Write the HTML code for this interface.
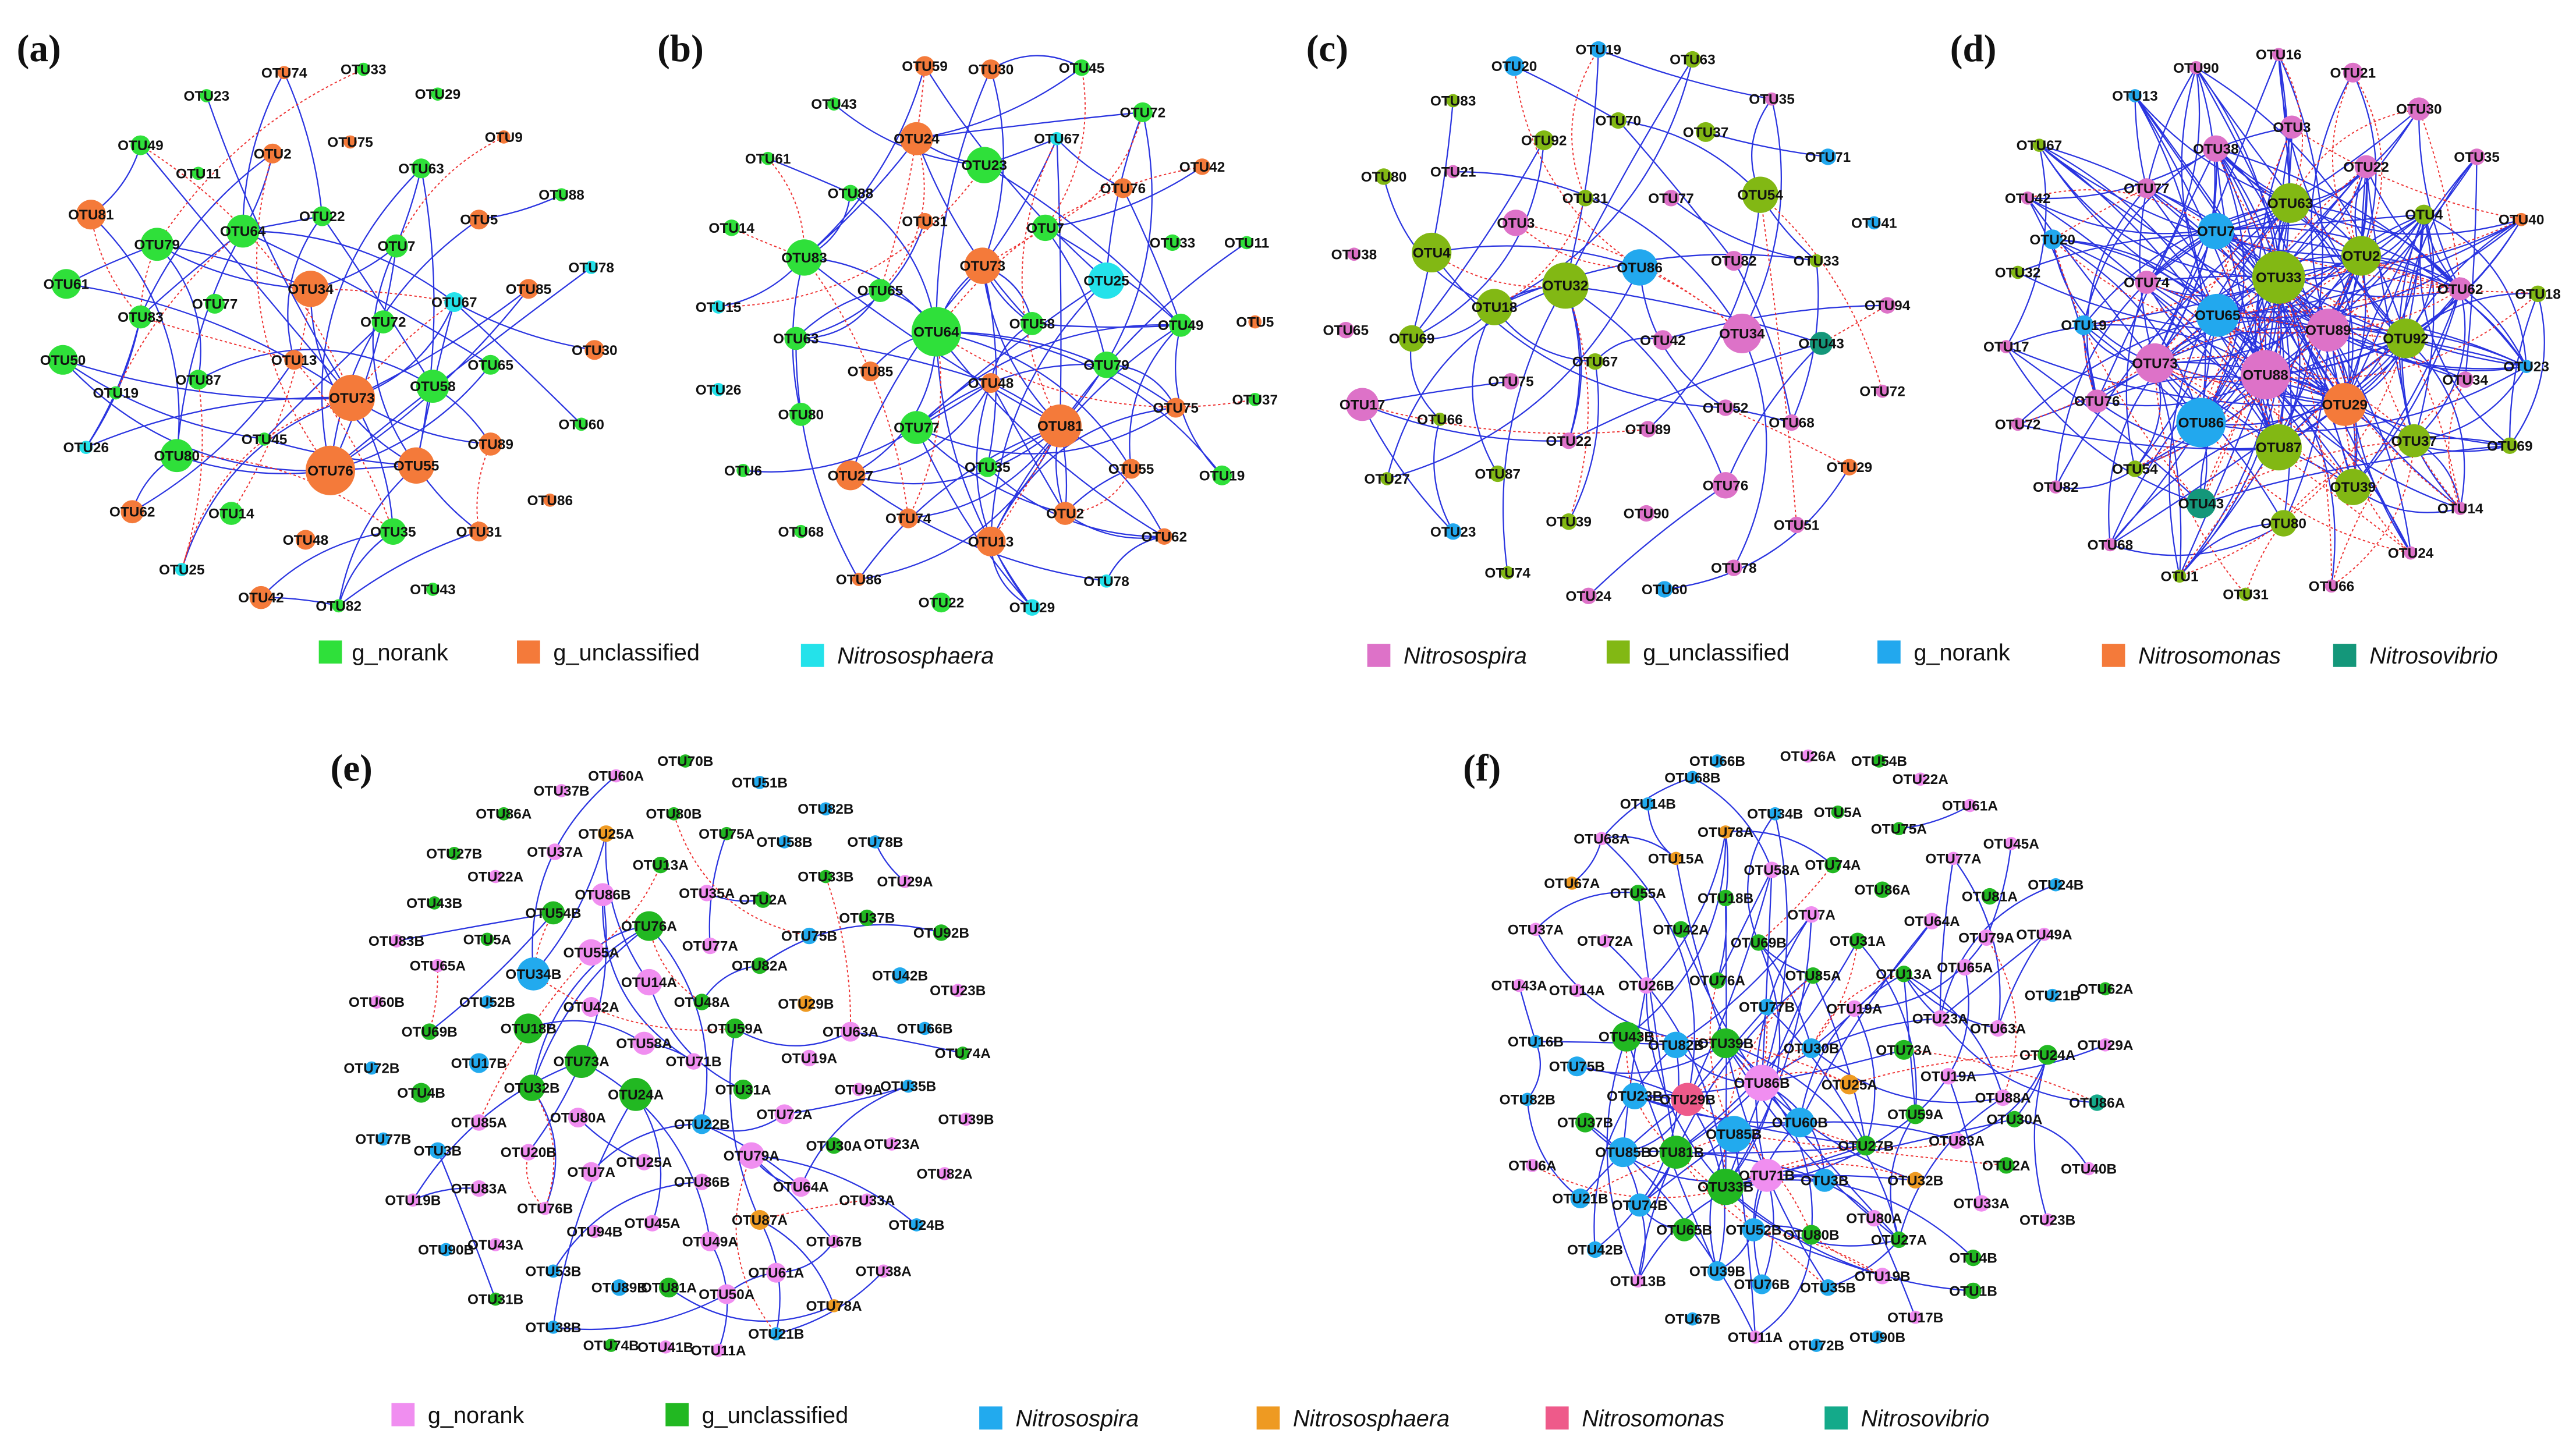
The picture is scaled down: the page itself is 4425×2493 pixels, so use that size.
<!DOCTYPE html>
<html><head><meta charset="utf-8"><style>
html,body{margin:0;padding:0;background:#fff;}
svg{display:block;}
text{font-family:"Liberation Sans",sans-serif;font-size:8.6px;font-weight:bold;text-anchor:middle;fill:#111;}
.lab{font-family:"Liberation Serif",serif;font-size:23px;font-weight:bold;text-anchor:start;}
.lg{font-size:14px;font-weight:normal;text-anchor:start;}
.it{font-style:italic;}
.g1{fill:#2fe03a}.o1{fill:#f47a3a}.c1{fill:#24e2ea}
.pk{fill:#dd72c8}.ol{fill:#82b814}.bl{fill:#22a8ee}.tl{fill:#14977a}.or{fill:#f47a3a}
.pe{fill:#f08ef0}.ge{fill:#22b822}.be{fill:#22aaee}.oe{fill:#ee9a22}.re{fill:#ee5a8a}.te{fill:#14aa8a}
</style></head><body>
<svg id="s" width="4425" height="2493" viewBox="0 0 1560 879" xmlns="http://www.w3.org/2000/svg">
<g id="edges"></g>
<text class="lab" x="10" y="37">(a)</text>
<text class="lab" x="398" y="37">(b)</text>
<text class="lab" x="791" y="37">(c)</text>
<text class="lab" x="1181" y="37">(d)</text>
<text class="lab" x="200" y="473">(e)</text>
<text class="lab" x="886" y="473">(f)</text>

<g id="pa">
<circle class="o1" cx="172" cy="44" r="4"/><text x="172" y="47">OTU74</text>
<circle class="g1" cx="220" cy="42" r="4"/><text x="220" y="45">OTU33</text>
<circle class="g1" cx="125" cy="58" r="4"/><text x="125" y="61">OTU23</text>
<circle class="g1" cx="265" cy="57" r="4"/><text x="265" y="60">OTU29</text>
<circle class="o1" cx="212" cy="86" r="4"/><text x="212" y="89">OTU75</text>
<circle class="o1" cx="305" cy="83" r="4"/><text x="305" y="86">OTU9</text>
<circle class="g1" cx="85" cy="88" r="6"/><text x="85" y="91">OTU49</text>
<circle class="o1" cx="165" cy="93" r="6"/><text x="165" y="96">OTU2</text>
<circle class="g1" cx="120" cy="105" r="4"/><text x="120" y="108">OTU11</text>
<circle class="g1" cx="255" cy="102" r="6"/><text x="255" y="105">OTU63</text>
<circle class="g1" cx="340" cy="118" r="4"/><text x="340" y="121">OTU88</text>
<circle class="o1" cx="55" cy="130" r="9"/><text x="55" y="133">OTU81</text>
<circle class="g1" cx="95" cy="148" r="10"/><text x="95" y="151">OTU79</text>
<circle class="g1" cx="147" cy="140" r="10"/><text x="147" y="143">OTU64</text>
<circle class="g1" cx="195" cy="131" r="6"/><text x="195" y="134">OTU22</text>
<circle class="o1" cx="290" cy="133" r="6"/><text x="290" y="136">OTU5</text>
<circle class="g1" cx="240" cy="149" r="7"/><text x="240" y="152">OTU7</text>
<circle class="c1" cx="358" cy="162" r="4"/><text x="358" y="165">OTU78</text>
<circle class="g1" cx="40" cy="172" r="9"/><text x="40" y="175">OTU61</text>
<circle class="o1" cx="188" cy="175" r="11"/><text x="188" y="178">OTU34</text>
<circle class="c1" cx="275" cy="183" r="6"/><text x="275" y="186">OTU67</text>
<circle class="o1" cx="320" cy="175" r="6"/><text x="320" y="178">OTU85</text>
<circle class="g1" cx="130" cy="184" r="6"/><text x="130" y="187">OTU77</text>
<circle class="g1" cx="85" cy="192" r="7"/><text x="85" y="195">OTU83</text>
<circle class="g1" cx="232" cy="195" r="7"/><text x="232" y="198">OTU72</text>
<circle class="o1" cx="178" cy="218" r="6"/><text x="178" y="221">OTU13</text>
<circle class="o1" cx="360" cy="212" r="6"/><text x="360" y="215">OTU30</text>
<circle class="g1" cx="297" cy="221" r="6"/><text x="297" y="224">OTU65</text>
<circle class="g1" cx="38" cy="218" r="9"/><text x="38" y="221">OTU50</text>
<circle class="g1" cx="120" cy="230" r="6"/><text x="120" y="233">OTU87</text>
<circle class="g1" cx="70" cy="238" r="4"/><text x="70" y="241">OTU19</text>
<circle class="g1" cx="262" cy="234" r="10"/><text x="262" y="237">OTU58</text>
<circle class="o1" cx="213" cy="241" r="14"/><text x="213" y="244">OTU73</text>
<circle class="g1" cx="352" cy="257" r="4"/><text x="352" y="260">OTU60</text>
<circle class="c1" cx="52" cy="271" r="4"/><text x="52" y="274">OTU26</text>
<circle class="g1" cx="160" cy="266" r="4"/><text x="160" y="269">OTU45</text>
<circle class="o1" cx="297" cy="269" r="7"/><text x="297" y="272">OTU89</text>
<circle class="g1" cx="107" cy="276" r="10"/><text x="107" y="279">OTU80</text>
<circle class="o1" cx="200" cy="285" r="15"/><text x="200" y="288">OTU76</text>
<circle class="o1" cx="252" cy="282" r="11"/><text x="252" y="285">OTU55</text>
<circle class="o1" cx="333" cy="303" r="4"/><text x="333" y="306">OTU86</text>
<circle class="o1" cx="80" cy="310" r="7"/><text x="80" y="313">OTU62</text>
<circle class="g1" cx="140" cy="311" r="7"/><text x="140" y="314">OTU14</text>
<circle class="o1" cx="185" cy="327" r="6"/><text x="185" y="330">OTU48</text>
<circle class="g1" cx="238" cy="322" r="8"/><text x="238" y="325">OTU35</text>
<circle class="o1" cx="290" cy="322" r="6"/><text x="290" y="325">OTU31</text>
<circle class="c1" cx="110" cy="345" r="4"/><text x="110" y="348">OTU25</text>
<circle class="g1" cx="262" cy="357" r="4"/><text x="262" y="360">OTU43</text>
<circle class="o1" cx="158" cy="362" r="7"/><text x="158" y="365">OTU42</text>
<circle class="g1" cx="205" cy="367" r="4"/><text x="205" y="370">OTU82</text>
</g>
<rect class="g1" x="193" y="388" width="14" height="14"/><text class="lg" x="213" y="400">g_norank</text>
<rect class="o1" x="313" y="388" width="14" height="14"/><text class="lg" x="335" y="400">g_unclassified</text>
<rect class="c1" x="485" y="390" width="14" height="14"/><text class="lg it" x="507" y="402">Nitrososphaera</text>

<g id="pb">
<circle class="o1" cx="560" cy="40" r="6"/><text x="560" y="43">OTU59</text>
<circle class="o1" cx="600" cy="42" r="6"/><text x="600" y="45">OTU30</text>
<circle class="g1" cx="655" cy="41" r="5"/><text x="655" y="44">OTU45</text>
<circle class="g1" cx="505" cy="63" r="4"/><text x="505" y="66">OTU43</text>
<circle class="c1" cx="640" cy="84" r="4"/><text x="640" y="87">OTU67</text>
<circle class="g1" cx="692" cy="68" r="6"/><text x="692" y="71">OTU72</text>
<circle class="o1" cx="555" cy="84" r="10"/><text x="555" y="87">OTU24</text>
<circle class="g1" cx="465" cy="96" r="4"/><text x="465" y="99">OTU61</text>
<circle class="o1" cx="728" cy="101" r="5"/><text x="728" y="104">OTU42</text>
<circle class="g1" cx="596" cy="100" r="11"/><text x="596" y="103">OTU23</text>
<circle class="g1" cx="515" cy="117" r="5"/><text x="515" y="120">OTU88</text>
<circle class="o1" cx="680" cy="114" r="6"/><text x="680" y="117">OTU76</text>
<circle class="o1" cx="560" cy="134" r="5"/><text x="560" y="137">OTU31</text>
<circle class="g1" cx="633" cy="138" r="8"/><text x="633" y="141">OTU7</text>
<circle class="g1" cx="443" cy="138" r="5"/><text x="443" y="141">OTU14</text>
<circle class="g1" cx="710" cy="147" r="5"/><text x="710" y="150">OTU33</text>
<circle class="g1" cx="755" cy="147" r="4"/><text x="755" y="150">OTU11</text>
<circle class="g1" cx="487" cy="156" r="11"/><text x="487" y="159">OTU83</text>
<circle class="o1" cx="595" cy="161" r="11"/><text x="595" y="164">OTU73</text>
<circle class="c1" cx="670" cy="170" r="11"/><text x="670" y="173">OTU25</text>
<circle class="g1" cx="533" cy="176" r="7"/><text x="533" y="179">OTU65</text>
<circle class="c1" cx="435" cy="186" r="4"/><text x="435" y="189">OTU15</text>
<circle class="g1" cx="625" cy="196" r="7"/><text x="625" y="199">OTU58</text>
<circle class="o1" cx="760" cy="195" r="4"/><text x="760" y="198">OTU5</text>
<circle class="g1" cx="715" cy="197" r="7"/><text x="715" y="200">OTU49</text>
<circle class="g1" cx="567" cy="201" r="15"/><text x="567" y="204">OTU64</text>
<circle class="g1" cx="482" cy="205" r="7"/><text x="482" y="208">OTU63</text>
<circle class="g1" cx="670" cy="221" r="8"/><text x="670" y="224">OTU79</text>
<circle class="o1" cx="527" cy="225" r="6"/><text x="527" y="228">OTU85</text>
<circle class="o1" cx="600" cy="232" r="6"/><text x="600" y="235">OTU48</text>
<circle class="c1" cx="435" cy="236" r="4"/><text x="435" y="239">OTU26</text>
<circle class="g1" cx="760" cy="242" r="4"/><text x="760" y="245">OTU37</text>
<circle class="g1" cx="485" cy="251" r="7"/><text x="485" y="254">OTU80</text>
<circle class="g1" cx="555" cy="259" r="10"/><text x="555" y="262">OTU77</text>
<circle class="o1" cx="642" cy="258" r="13"/><text x="642" y="261">OTU81</text>
<circle class="o1" cx="712" cy="247" r="6"/><text x="712" y="250">OTU75</text>
<circle class="g1" cx="450" cy="285" r="4"/><text x="450" y="288">OTU6</text>
<circle class="o1" cx="515" cy="288" r="9"/><text x="515" y="291">OTU27</text>
<circle class="g1" cx="598" cy="283" r="6"/><text x="598" y="286">OTU35</text>
<circle class="o1" cx="685" cy="284" r="6"/><text x="685" y="287">OTU55</text>
<circle class="g1" cx="740" cy="288" r="6"/><text x="740" y="291">OTU19</text>
<circle class="g1" cx="485" cy="322" r="4"/><text x="485" y="325">OTU68</text>
<circle class="o1" cx="550" cy="314" r="6"/><text x="550" y="317">OTU74</text>
<circle class="o1" cx="600" cy="328" r="9"/><text x="600" y="331">OTU13</text>
<circle class="o1" cx="645" cy="311" r="7"/><text x="645" y="314">OTU2</text>
<circle class="o1" cx="705" cy="325" r="5"/><text x="705" y="328">OTU62</text>
<circle class="o1" cx="520" cy="351" r="4"/><text x="520" y="354">OTU86</text>
<circle class="g1" cx="570" cy="365" r="6"/><text x="570" y="368">OTU22</text>
<circle class="c1" cx="670" cy="352" r="4"/><text x="670" y="355">OTU78</text>
<circle class="c1" cx="625" cy="368" r="5"/><text x="625" y="371">OTU29</text>
</g>

<g id="pc">
<circle class="bl" cx="968" cy="30" r="5"/><text x="968" y="33">OTU19</text>
<circle class="bl" cx="917" cy="40" r="6"/><text x="917" y="43">OTU20</text>
<circle class="ol" cx="1025" cy="36" r="5"/><text x="1025" y="39">OTU63</text>
<circle class="pk" cx="1073" cy="60" r="4"/><text x="1073" y="63">OTU35</text>
<circle class="ol" cx="880" cy="61" r="4"/><text x="880" y="64">OTU83</text>
<circle class="ol" cx="980" cy="73" r="5"/><text x="980" y="76">OTU70</text>
<circle class="ol" cx="1033" cy="80" r="6"/><text x="1033" y="83">OTU37</text>
<circle class="ol" cx="935" cy="85" r="6"/><text x="935" y="88">OTU92</text>
<circle class="bl" cx="1107" cy="95" r="5"/><text x="1107" y="98">OTU71</text>
<circle class="ol" cx="838" cy="107" r="5"/><text x="838" y="110">OTU80</text>
<circle class="pk" cx="880" cy="104" r="4"/><text x="880" y="107">OTU21</text>
<circle class="ol" cx="960" cy="120" r="5"/><text x="960" y="123">OTU31</text>
<circle class="pk" cx="1012" cy="120" r="5"/><text x="1012" y="123">OTU77</text>
<circle class="ol" cx="1066" cy="118" r="11"/><text x="1066" y="121">OTU54</text>
<circle class="bl" cx="1135" cy="135" r="4"/><text x="1135" y="138">OTU41</text>
<circle class="pk" cx="918" cy="135" r="8"/><text x="918" y="138">OTU3</text>
<circle class="ol" cx="867" cy="153" r="12"/><text x="867" y="156">OTU4</text>
<circle class="pk" cx="820" cy="154" r="4"/><text x="820" y="157">OTU38</text>
<circle class="ol" cx="948" cy="173" r="14"/><text x="948" y="176">OTU32</text>
<circle class="bl" cx="993" cy="162" r="11"/><text x="993" y="165">OTU86</text>
<circle class="pk" cx="1050" cy="158" r="6"/><text x="1050" y="161">OTU82</text>
<circle class="ol" cx="1100" cy="158" r="4"/><text x="1100" y="161">OTU33</text>
<circle class="ol" cx="905" cy="186" r="11"/><text x="905" y="189">OTU18</text>
<circle class="pk" cx="1143" cy="185" r="5"/><text x="1143" y="188">OTU94</text>
<circle class="pk" cx="815" cy="200" r="5"/><text x="815" y="203">OTU65</text>
<circle class="ol" cx="855" cy="205" r="8"/><text x="855" y="208">OTU69</text>
<circle class="pk" cx="1007" cy="206" r="6"/><text x="1007" y="209">OTU42</text>
<circle class="pk" cx="1055" cy="202" r="12"/><text x="1055" y="205">OTU34</text>
<circle class="tl" cx="1103" cy="208" r="7"/><text x="1103" y="211">OTU43</text>
<circle class="ol" cx="966" cy="219" r="5"/><text x="966" y="222">OTU67</text>
<circle class="pk" cx="915" cy="231" r="5"/><text x="915" y="234">OTU75</text>
<circle class="pk" cx="825" cy="245" r="10"/><text x="825" y="248">OTU17</text>
<circle class="pk" cx="950" cy="267" r="5"/><text x="950" y="270">OTU22</text>
<circle class="pk" cx="1045" cy="247" r="5"/><text x="1045" y="250">OTU52</text>
<circle class="pk" cx="1140" cy="237" r="4"/><text x="1140" y="240">OTU72</text>
<circle class="ol" cx="872" cy="254" r="4"/><text x="872" y="257">OTU66</text>
<circle class="pk" cx="998" cy="260" r="5"/><text x="998" y="263">OTU89</text>
<circle class="pk" cx="1085" cy="256" r="5"/><text x="1085" y="259">OTU68</text>
<circle class="ol" cx="840" cy="290" r="4"/><text x="840" y="293">OTU27</text>
<circle class="ol" cx="907" cy="287" r="5"/><text x="907" y="290">OTU87</text>
<circle class="pk" cx="1045" cy="294" r="8"/><text x="1045" y="297">OTU76</text>
<circle class="or" cx="1120" cy="283" r="5"/><text x="1120" y="286">OTU29</text>
<circle class="ol" cx="950" cy="316" r="5"/><text x="950" y="319">OTU39</text>
<circle class="pk" cx="997" cy="311" r="5"/><text x="997" y="314">OTU90</text>
<circle class="pk" cx="1088" cy="318" r="5"/><text x="1088" y="321">OTU51</text>
<circle class="bl" cx="880" cy="322" r="5"/><text x="880" y="325">OTU23</text>
<circle class="ol" cx="913" cy="347" r="4"/><text x="913" y="350">OTU74</text>
<circle class="pk" cx="962" cy="361" r="5"/><text x="962" y="364">OTU24</text>
<circle class="bl" cx="1008" cy="357" r="5"/><text x="1008" y="360">OTU60</text>
<circle class="pk" cx="1050" cy="344" r="5"/><text x="1050" y="347">OTU78</text>
</g>
<rect class="pk" x="828" y="390" width="14" height="14"/><text class="lg it" x="850" y="402">Nitrosospira</text>
<rect class="ol" x="973" y="388" width="14" height="14"/><text class="lg" x="995" y="400">g_unclassified</text>
<rect class="bl" x="1137" y="388" width="14" height="14"/><text class="lg" x="1159" y="400">g_norank</text>
<rect class="or" x="1273" y="390" width="14" height="14"/><text class="lg it" x="1295" y="402">Nitrosomonas</text>
<rect class="tl" x="1413" y="390" width="14" height="14"/><text class="lg it" x="1435" y="402">Nitrosovibrio</text>

<g id="pd">
<circle class="pk" cx="1330" cy="41" r="4"/><text x="1330" y="44">OTU90</text>
<circle class="pk" cx="1380" cy="33" r="4"/><text x="1380" y="36">OTU16</text>
<circle class="pk" cx="1425" cy="44" r="6"/><text x="1425" y="47">OTU21</text>
<circle class="pk" cx="1465" cy="66" r="7"/><text x="1465" y="69">OTU30</text>
<circle class="bl" cx="1293" cy="58" r="4"/><text x="1293" y="61">OTU13</text>
<circle class="pk" cx="1388" cy="77" r="7"/><text x="1388" y="80">OTU3</text>
<circle class="ol" cx="1235" cy="88" r="4"/><text x="1235" y="91">OTU67</text>
<circle class="pk" cx="1342" cy="90" r="8"/><text x="1342" y="93">OTU38</text>
<circle class="pk" cx="1433" cy="101" r="7"/><text x="1433" y="104">OTU22</text>
<circle class="pk" cx="1500" cy="95" r="5"/><text x="1500" y="98">OTU35</text>
<circle class="pk" cx="1300" cy="114" r="6"/><text x="1300" y="117">OTU77</text>
<circle class="pk" cx="1228" cy="120" r="4"/><text x="1228" y="123">OTU42</text>
<circle class="ol" cx="1387" cy="123" r="12"/><text x="1387" y="126">OTU63</text>
<circle class="ol" cx="1468" cy="130" r="6"/><text x="1468" y="133">OTU4</text>
<circle class="or" cx="1527" cy="133" r="4"/><text x="1527" y="136">OTU40</text>
<circle class="bl" cx="1342" cy="140" r="11"/><text x="1342" y="143">OTU7</text>
<circle class="bl" cx="1243" cy="145" r="6"/><text x="1243" y="148">OTU20</text>
<circle class="ol" cx="1430" cy="155" r="12"/><text x="1430" y="158">OTU2</text>
<circle class="ol" cx="1380" cy="168" r="16"/><text x="1380" y="171">OTU33</text>
<circle class="ol" cx="1222" cy="165" r="4"/><text x="1222" y="168">OTU32</text>
<circle class="pk" cx="1300" cy="171" r="7"/><text x="1300" y="174">OTU74</text>
<circle class="pk" cx="1490" cy="175" r="7"/><text x="1490" y="178">OTU62</text>
<circle class="ol" cx="1537" cy="178" r="5"/><text x="1537" y="181">OTU18</text>
<circle class="bl" cx="1343" cy="191" r="13"/><text x="1343" y="194">OTU65</text>
<circle class="pk" cx="1410" cy="200" r="13"/><text x="1410" y="203">OTU89</text>
<circle class="ol" cx="1457" cy="205" r="12"/><text x="1457" y="208">OTU92</text>
<circle class="bl" cx="1262" cy="197" r="6"/><text x="1262" y="200">OTU19</text>
<circle class="pk" cx="1215" cy="210" r="4"/><text x="1215" y="213">OTU17</text>
<circle class="pk" cx="1305" cy="220" r="12"/><text x="1305" y="223">OTU73</text>
<circle class="pk" cx="1372" cy="227" r="15"/><text x="1372" y="230">OTU88</text>
<circle class="pk" cx="1493" cy="230" r="5"/><text x="1493" y="233">OTU34</text>
<circle class="bl" cx="1530" cy="222" r="4"/><text x="1530" y="225">OTU23</text>
<circle class="pk" cx="1270" cy="243" r="7"/><text x="1270" y="246">OTU76</text>
<circle class="or" cx="1420" cy="245" r="13"/><text x="1420" y="248">OTU29</text>
<circle class="bl" cx="1333" cy="256" r="15"/><text x="1333" y="259">OTU86</text>
<circle class="pk" cx="1222" cy="257" r="4"/><text x="1222" y="260">OTU72</text>
<circle class="ol" cx="1380" cy="271" r="14"/><text x="1380" y="274">OTU87</text>
<circle class="ol" cx="1462" cy="267" r="10"/><text x="1462" y="270">OTU37</text>
<circle class="ol" cx="1520" cy="270" r="5"/><text x="1520" y="273">OTU69</text>
<circle class="ol" cx="1293" cy="284" r="5"/><text x="1293" y="287">OTU54</text>
<circle class="pk" cx="1245" cy="295" r="4"/><text x="1245" y="298">OTU82</text>
<circle class="ol" cx="1425" cy="295" r="11"/><text x="1425" y="298">OTU39</text>
<circle class="tl" cx="1333" cy="305" r="9"/><text x="1333" y="308">OTU43</text>
<circle class="ol" cx="1383" cy="317" r="8"/><text x="1383" y="320">OTU80</text>
<circle class="pk" cx="1490" cy="308" r="4"/><text x="1490" y="311">OTU14</text>
<circle class="pk" cx="1278" cy="330" r="4"/><text x="1278" y="333">OTU68</text>
<circle class="pk" cx="1460" cy="335" r="4"/><text x="1460" y="338">OTU24</text>
<circle class="ol" cx="1320" cy="349" r="4"/><text x="1320" y="352">OTU1</text>
<circle class="ol" cx="1360" cy="360" r="4"/><text x="1360" y="363">OTU31</text>
<circle class="pk" cx="1412" cy="355" r="4"/><text x="1412" y="358">OTU66</text>
</g>

<g id="pe">
<circle class="pe" cx="373" cy="470" r="4"/><text x="373" y="473">OTU60A</text>
<circle class="ge" cx="415" cy="461" r="4"/><text x="415" y="464">OTU70B</text>
<circle class="pe" cx="340" cy="479" r="4"/><text x="340" y="482">OTU37B</text>
<circle class="be" cx="460" cy="474" r="4"/><text x="460" y="477">OTU51B</text>
<circle class="ge" cx="305" cy="493" r="4"/><text x="305" y="496">OTU86A</text>
<circle class="ge" cx="408" cy="493" r="4"/><text x="408" y="496">OTU80B</text>
<circle class="be" cx="500" cy="490" r="4"/><text x="500" y="493">OTU82B</text>
<circle class="oe" cx="367" cy="505" r="5"/><text x="367" y="508">OTU25A</text>
<circle class="ge" cx="440" cy="505" r="4"/><text x="440" y="508">OTU75A</text>
<circle class="be" cx="475" cy="510" r="4"/><text x="475" y="513">OTU58B</text>
<circle class="be" cx="530" cy="510" r="4"/><text x="530" y="513">OTU78B</text>
<circle class="ge" cx="275" cy="517" r="4"/><text x="275" y="520">OTU27B</text>
<circle class="pe" cx="336" cy="516" r="5"/><text x="336" y="519">OTU37A</text>
<circle class="ge" cx="400" cy="524" r="5"/><text x="400" y="527">OTU13A</text>
<circle class="ge" cx="500" cy="531" r="4"/><text x="500" y="534">OTU33B</text>
<circle class="pe" cx="548" cy="534" r="4"/><text x="548" y="537">OTU29A</text>
<circle class="pe" cx="300" cy="531" r="4"/><text x="300" y="534">OTU22A</text>
<circle class="pe" cx="365" cy="542" r="7"/><text x="365" y="545">OTU86B</text>
<circle class="pe" cx="428" cy="541" r="5"/><text x="428" y="544">OTU35A</text>
<circle class="ge" cx="462" cy="545" r="5"/><text x="462" y="548">OTU2A</text>
<circle class="ge" cx="263" cy="547" r="4"/><text x="263" y="550">OTU43B</text>
<circle class="ge" cx="335" cy="553" r="7"/><text x="335" y="556">OTU54B</text>
<circle class="ge" cx="393" cy="561" r="9"/><text x="393" y="564">OTU76A</text>
<circle class="ge" cx="525" cy="556" r="5"/><text x="525" y="559">OTU37B</text>
<circle class="ge" cx="570" cy="565" r="5"/><text x="570" y="568">OTU92B</text>
<circle class="pe" cx="240" cy="570" r="4"/><text x="240" y="573">OTU83B</text>
<circle class="ge" cx="295" cy="569" r="4"/><text x="295" y="572">OTU5A</text>
<circle class="be" cx="490" cy="567" r="5"/><text x="490" y="570">OTU75B</text>
<circle class="pe" cx="358" cy="577" r="8"/><text x="358" y="580">OTU55A</text>
<circle class="pe" cx="430" cy="573" r="5"/><text x="430" y="576">OTU77A</text>
<circle class="pe" cx="265" cy="585" r="4"/><text x="265" y="588">OTU65A</text>
<circle class="be" cx="323" cy="590" r="10"/><text x="323" y="593">OTU34B</text>
<circle class="ge" cx="460" cy="585" r="5"/><text x="460" y="588">OTU82A</text>
<circle class="be" cx="545" cy="591" r="5"/><text x="545" y="594">OTU42B</text>
<circle class="pe" cx="580" cy="600" r="4"/><text x="580" y="603">OTU23B</text>
<circle class="pe" cx="393" cy="595" r="8"/><text x="393" y="598">OTU14A</text>
<circle class="pe" cx="228" cy="607" r="4"/><text x="228" y="610">OTU60B</text>
<circle class="be" cx="295" cy="607" r="4"/><text x="295" y="610">OTU52B</text>
<circle class="pe" cx="358" cy="610" r="6"/><text x="358" y="613">OTU42A</text>
<circle class="ge" cx="425" cy="607" r="5"/><text x="425" y="610">OTU48A</text>
<circle class="oe" cx="488" cy="608" r="5"/><text x="488" y="611">OTU29B</text>
<circle class="ge" cx="320" cy="623" r="9"/><text x="320" y="626">OTU18B</text>
<circle class="ge" cx="445" cy="623" r="6"/><text x="445" y="626">OTU59A</text>
<circle class="pe" cx="515" cy="625" r="6"/><text x="515" y="628">OTU63A</text>
<circle class="be" cx="560" cy="623" r="4"/><text x="560" y="626">OTU66B</text>
<circle class="ge" cx="583" cy="638" r="4"/><text x="583" y="641">OTU74A</text>
<circle class="ge" cx="260" cy="625" r="5"/><text x="260" y="628">OTU69B</text>
<circle class="pe" cx="390" cy="632" r="7"/><text x="390" y="635">OTU58A</text>
<circle class="be" cx="225" cy="647" r="4"/><text x="225" y="650">OTU72B</text>
<circle class="be" cx="290" cy="644" r="6"/><text x="290" y="647">OTU17B</text>
<circle class="ge" cx="352" cy="643" r="10"/><text x="352" y="646">OTU73A</text>
<circle class="pe" cx="420" cy="643" r="5"/><text x="420" y="646">OTU71B</text>
<circle class="pe" cx="490" cy="641" r="5"/><text x="490" y="644">OTU19A</text>
<circle class="ge" cx="255" cy="662" r="6"/><text x="255" y="665">OTU4B</text>
<circle class="ge" cx="322" cy="659" r="8"/><text x="322" y="662">OTU32B</text>
<circle class="ge" cx="385" cy="663" r="10"/><text x="385" y="666">OTU24A</text>
<circle class="ge" cx="450" cy="660" r="6"/><text x="450" y="663">OTU31A</text>
<circle class="pe" cx="520" cy="660" r="4"/><text x="520" y="663">OTU9A</text>
<circle class="be" cx="550" cy="658" r="4"/><text x="550" y="661">OTU35B</text>
<circle class="pe" cx="290" cy="680" r="5"/><text x="290" y="683">OTU85A</text>
<circle class="pe" cx="350" cy="677" r="6"/><text x="350" y="680">OTU80A</text>
<circle class="be" cx="425" cy="681" r="6"/><text x="425" y="684">OTU22B</text>
<circle class="pe" cx="475" cy="675" r="6"/><text x="475" y="678">OTU72A</text>
<circle class="pe" cx="585" cy="678" r="4"/><text x="585" y="681">OTU39B</text>
<circle class="be" cx="232" cy="690" r="4"/><text x="232" y="693">OTU77B</text>
<circle class="be" cx="265" cy="697" r="5"/><text x="265" y="700">OTU3B</text>
<circle class="pe" cx="320" cy="698" r="5"/><text x="320" y="701">OTU20B</text>
<circle class="ge" cx="505" cy="694" r="5"/><text x="505" y="697">OTU30A</text>
<circle class="pe" cx="540" cy="693" r="4"/><text x="540" y="696">OTU23A</text>
<circle class="pe" cx="390" cy="704" r="5"/><text x="390" y="707">OTU25A</text>
<circle class="pe" cx="455" cy="700" r="8"/><text x="455" y="703">OTU79A</text>
<circle class="pe" cx="358" cy="710" r="6"/><text x="358" y="713">OTU7A</text>
<circle class="pe" cx="425" cy="716" r="5"/><text x="425" y="719">OTU86B</text>
<circle class="pe" cx="485" cy="719" r="6"/><text x="485" y="722">OTU64A</text>
<circle class="pe" cx="525" cy="727" r="4"/><text x="525" y="730">OTU33A</text>
<circle class="pe" cx="572" cy="711" r="4"/><text x="572" y="714">OTU82A</text>
<circle class="pe" cx="250" cy="727" r="4"/><text x="250" y="730">OTU19B</text>
<circle class="pe" cx="290" cy="720" r="5"/><text x="290" y="723">OTU83A</text>
<circle class="pe" cx="330" cy="732" r="4"/><text x="330" y="735">OTU76B</text>
<circle class="oe" cx="460" cy="739" r="6"/><text x="460" y="742">OTU87A</text>
<circle class="be" cx="555" cy="742" r="4"/><text x="555" y="745">OTU24B</text>
<circle class="pe" cx="360" cy="746" r="4"/><text x="360" y="749">OTU94B</text>
<circle class="pe" cx="395" cy="741" r="5"/><text x="395" y="744">OTU45A</text>
<circle class="pe" cx="430" cy="752" r="6"/><text x="430" y="755">OTU49A</text>
<circle class="pe" cx="505" cy="752" r="4"/><text x="505" y="755">OTU67B</text>
<circle class="be" cx="270" cy="757" r="4"/><text x="270" y="760">OTU90B</text>
<circle class="pe" cx="300" cy="754" r="4"/><text x="300" y="757">OTU43A</text>
<circle class="be" cx="335" cy="770" r="4"/><text x="335" y="773">OTU53B</text>
<circle class="pe" cx="470" cy="771" r="6"/><text x="470" y="774">OTU61A</text>
<circle class="pe" cx="535" cy="770" r="4"/><text x="535" y="773">OTU38A</text>
<circle class="be" cx="375" cy="780" r="5"/><text x="375" y="783">OTU89B</text>
<circle class="ge" cx="405" cy="780" r="6"/><text x="405" y="783">OTU81A</text>
<circle class="pe" cx="440" cy="784" r="6"/><text x="440" y="787">OTU50A</text>
<circle class="ge" cx="300" cy="787" r="4"/><text x="300" y="790">OTU31B</text>
<circle class="oe" cx="505" cy="791" r="4"/><text x="505" y="794">OTU78A</text>
<circle class="be" cx="335" cy="804" r="4"/><text x="335" y="807">OTU38B</text>
<circle class="be" cx="470" cy="808" r="4"/><text x="470" y="811">OTU21B</text>
<circle class="ge" cx="370" cy="815" r="4"/><text x="370" y="818">OTU74B</text>
<circle class="pe" cx="403" cy="816" r="4"/><text x="403" y="819">OTU41B</text>
<circle class="pe" cx="435" cy="818" r="4"/><text x="435" y="821">OTU11A</text>
</g>

<g id="pf">
<circle class="be" cx="1040" cy="461" r="4"/><text x="1040" y="464">OTU66B</text>
<circle class="pe" cx="1095" cy="458" r="4"/><text x="1095" y="461">OTU26A</text>
<circle class="ge" cx="1138" cy="461" r="4"/><text x="1138" y="464">OTU54B</text>
<circle class="be" cx="1025" cy="471" r="4"/><text x="1025" y="474">OTU68B</text>
<circle class="pe" cx="1163" cy="472" r="4"/><text x="1163" y="475">OTU22A</text>
<circle class="be" cx="998" cy="487" r="4"/><text x="998" y="490">OTU14B</text>
<circle class="be" cx="1075" cy="493" r="4"/><text x="1075" y="496">OTU34B</text>
<circle class="ge" cx="1113" cy="492" r="4"/><text x="1113" y="495">OTU5A</text>
<circle class="pe" cx="1193" cy="488" r="4"/><text x="1193" y="491">OTU61A</text>
<circle class="pe" cx="970" cy="508" r="4"/><text x="970" y="511">OTU68A</text>
<circle class="oe" cx="1045" cy="504" r="4"/><text x="1045" y="507">OTU78A</text>
<circle class="ge" cx="1150" cy="502" r="4"/><text x="1150" y="505">OTU75A</text>
<circle class="pe" cx="1218" cy="511" r="4"/><text x="1218" y="514">OTU45A</text>
<circle class="oe" cx="1015" cy="520" r="4"/><text x="1015" y="523">OTU15A</text>
<circle class="ge" cx="1110" cy="524" r="5"/><text x="1110" y="527">OTU74A</text>
<circle class="pe" cx="1183" cy="520" r="4"/><text x="1183" y="523">OTU77A</text>
<circle class="pe" cx="1073" cy="527" r="5"/><text x="1073" y="530">OTU58A</text>
<circle class="oe" cx="952" cy="535" r="4"/><text x="952" y="538">OTU67A</text>
<circle class="ge" cx="992" cy="541" r="5"/><text x="992" y="544">OTU55A</text>
<circle class="ge" cx="1045" cy="544" r="5"/><text x="1045" y="547">OTU18B</text>
<circle class="ge" cx="1140" cy="539" r="5"/><text x="1140" y="542">OTU86A</text>
<circle class="ge" cx="1205" cy="543" r="5"/><text x="1205" y="546">OTU81A</text>
<circle class="be" cx="1245" cy="536" r="4"/><text x="1245" y="539">OTU24B</text>
<circle class="pe" cx="1097" cy="554" r="5"/><text x="1097" y="557">OTU7A</text>
<circle class="pe" cx="1170" cy="558" r="5"/><text x="1170" y="561">OTU64A</text>
<circle class="pe" cx="930" cy="563" r="4"/><text x="930" y="566">OTU37A</text>
<circle class="pe" cx="972" cy="570" r="4"/><text x="972" y="573">OTU72A</text>
<circle class="ge" cx="1018" cy="563" r="5"/><text x="1018" y="566">OTU42A</text>
<circle class="ge" cx="1065" cy="571" r="5"/><text x="1065" y="574">OTU69B</text>
<circle class="ge" cx="1125" cy="570" r="5"/><text x="1125" y="573">OTU31A</text>
<circle class="pe" cx="1203" cy="568" r="5"/><text x="1203" y="571">OTU79A</text>
<circle class="pe" cx="1238" cy="566" r="4"/><text x="1238" y="569">OTU49A</text>
<circle class="ge" cx="1098" cy="591" r="5"/><text x="1098" y="594">OTU85A</text>
<circle class="pe" cx="1190" cy="586" r="5"/><text x="1190" y="589">OTU65A</text>
<circle class="pe" cx="920" cy="597" r="4"/><text x="920" y="600">OTU43A</text>
<circle class="pe" cx="955" cy="600" r="4"/><text x="955" y="603">OTU14A</text>
<circle class="pe" cx="997" cy="597" r="5"/><text x="997" y="600">OTU26B</text>
<circle class="ge" cx="1040" cy="594" r="5"/><text x="1040" y="597">OTU76A</text>
<circle class="ge" cx="1153" cy="590" r="5"/><text x="1153" y="593">OTU13A</text>
<circle class="be" cx="1243" cy="603" r="4"/><text x="1243" y="606">OTU21B</text>
<circle class="ge" cx="1275" cy="599" r="4"/><text x="1275" y="602">OTU62A</text>
<circle class="be" cx="1070" cy="610" r="5"/><text x="1070" y="613">OTU77B</text>
<circle class="pe" cx="1123" cy="611" r="5"/><text x="1123" y="614">OTU19A</text>
<circle class="pe" cx="1175" cy="617" r="5"/><text x="1175" y="620">OTU23A</text>
<circle class="pe" cx="1210" cy="623" r="5"/><text x="1210" y="626">OTU63A</text>
<circle class="be" cx="930" cy="631" r="4"/><text x="930" y="634">OTU16B</text>
<circle class="ge" cx="985" cy="628" r="9"/><text x="985" y="631">OTU43B</text>
<circle class="be" cx="1015" cy="633" r="8"/><text x="1015" y="636">OTU82B</text>
<circle class="ge" cx="1045" cy="632" r="9"/><text x="1045" y="635">OTU39B</text>
<circle class="be" cx="1097" cy="635" r="6"/><text x="1097" y="638">OTU30B</text>
<circle class="ge" cx="1153" cy="636" r="6"/><text x="1153" y="639">OTU73A</text>
<circle class="ge" cx="1240" cy="639" r="6"/><text x="1240" y="642">OTU24A</text>
<circle class="pe" cx="1275" cy="633" r="4"/><text x="1275" y="636">OTU29A</text>
<circle class="be" cx="955" cy="646" r="6"/><text x="955" y="649">OTU75B</text>
<circle class="pe" cx="1180" cy="652" r="5"/><text x="1180" y="655">OTU19A</text>
<circle class="pe" cx="1213" cy="665" r="5"/><text x="1213" y="668">OTU88A</text>
<circle class="te" cx="1270" cy="668" r="5"/><text x="1270" y="671">OTU86A</text>
<circle class="be" cx="925" cy="666" r="4"/><text x="925" y="669">OTU82B</text>
<circle class="be" cx="990" cy="664" r="8"/><text x="990" y="667">OTU23B</text>
<circle class="re" cx="1022" cy="666" r="10"/><text x="1022" y="669">OTU29B</text>
<circle class="pe" cx="1067" cy="656" r="11"/><text x="1067" y="659">OTU86B</text>
<circle class="oe" cx="1120" cy="657" r="6"/><text x="1120" y="660">OTU25A</text>
<circle class="be" cx="1090" cy="680" r="9"/><text x="1090" y="683">OTU60B</text>
<circle class="ge" cx="1160" cy="675" r="6"/><text x="1160" y="678">OTU59A</text>
<circle class="ge" cx="1220" cy="678" r="5"/><text x="1220" y="681">OTU30A</text>
<circle class="ge" cx="960" cy="680" r="6"/><text x="960" y="683">OTU37B</text>
<circle class="be" cx="1050" cy="687" r="11"/><text x="1050" y="690">OTU85B</text>
<circle class="ge" cx="1130" cy="694" r="6"/><text x="1130" y="697">OTU27B</text>
<circle class="pe" cx="1185" cy="691" r="5"/><text x="1185" y="694">OTU83A</text>
<circle class="pe" cx="928" cy="706" r="4"/><text x="928" y="709">OTU6A</text>
<circle class="be" cx="983" cy="698" r="9"/><text x="983" y="701">OTU85B</text>
<circle class="ge" cx="1015" cy="698" r="10"/><text x="1015" y="701">OTU81B</text>
<circle class="pe" cx="1070" cy="712" r="10"/><text x="1070" y="715">OTU71B</text>
<circle class="be" cx="1105" cy="715" r="7"/><text x="1105" y="718">OTU3B</text>
<circle class="ge" cx="1215" cy="706" r="5"/><text x="1215" y="709">OTU2A</text>
<circle class="pe" cx="1265" cy="708" r="4"/><text x="1265" y="711">OTU40B</text>
<circle class="ge" cx="1045" cy="719" r="11"/><text x="1045" y="722">OTU33B</text>
<circle class="oe" cx="1160" cy="715" r="5"/><text x="1160" y="718">OTU32B</text>
<circle class="be" cx="957" cy="726" r="6"/><text x="957" y="729">OTU21B</text>
<circle class="be" cx="993" cy="730" r="7"/><text x="993" y="733">OTU74B</text>
<circle class="pe" cx="1200" cy="729" r="5"/><text x="1200" y="732">OTU33A</text>
<circle class="be" cx="1062" cy="745" r="7"/><text x="1062" y="748">OTU52B</text>
<circle class="ge" cx="1097" cy="748" r="6"/><text x="1097" y="751">OTU80B</text>
<circle class="pe" cx="1135" cy="738" r="5"/><text x="1135" y="741">OTU80A</text>
<circle class="pe" cx="1240" cy="739" r="4"/><text x="1240" y="742">OTU23B</text>
<circle class="ge" cx="1020" cy="745" r="7"/><text x="1020" y="748">OTU65B</text>
<circle class="ge" cx="1150" cy="751" r="5"/><text x="1150" y="754">OTU27A</text>
<circle class="be" cx="966" cy="757" r="5"/><text x="966" y="760">OTU42B</text>
<circle class="be" cx="1040" cy="770" r="6"/><text x="1040" y="773">OTU39B</text>
<circle class="pe" cx="1140" cy="773" r="5"/><text x="1140" y="776">OTU19B</text>
<circle class="ge" cx="1195" cy="762" r="5"/><text x="1195" y="765">OTU4B</text>
<circle class="pe" cx="992" cy="776" r="4"/><text x="992" y="779">OTU13B</text>
<circle class="be" cx="1067" cy="778" r="6"/><text x="1067" y="781">OTU76B</text>
<circle class="be" cx="1107" cy="780" r="5"/><text x="1107" y="783">OTU35B</text>
<circle class="pe" cx="1160" cy="798" r="4"/><text x="1160" y="801">OTU17B</text>
<circle class="ge" cx="1195" cy="782" r="5"/><text x="1195" y="785">OTU1B</text>
<circle class="be" cx="1025" cy="799" r="4"/><text x="1025" y="802">OTU67B</text>
<circle class="pe" cx="1063" cy="810" r="4"/><text x="1063" y="813">OTU11A</text>
<circle class="be" cx="1100" cy="815" r="4"/><text x="1100" y="818">OTU72B</text>
<circle class="be" cx="1137" cy="810" r="4"/><text x="1137" y="813">OTU90B</text>
</g>
<rect class="pe" x="237" y="850" width="14" height="14"/><text class="lg" x="259" y="862">g_norank</text>
<rect class="ge" x="403" y="850" width="14" height="14"/><text class="lg" x="425" y="862">g_unclassified</text>
<rect class="be" x="593" y="852" width="14" height="14"/><text class="lg it" x="615" y="864">Nitrosospira</text>
<rect class="oe" x="761" y="852" width="14" height="14"/><text class="lg it" x="783" y="864">Nitrososphaera</text>
<rect class="re" x="936" y="852" width="14" height="14"/><text class="lg it" x="958" y="864">Nitrosomonas</text>
<rect class="te" x="1105" y="852" width="14" height="14"/><text class="lg it" x="1127" y="864">Nitrosovibrio</text>
</svg>
<script>
(function(){
var seed=12345;function rnd(){seed=(seed*1103515245+12345)%2147483648;return seed/2147483648;}
var cfg={pa:[2.2,120,0.25],pb:[2.2,130,0.2],pc:[2.0,140,0.2],pd:[4.0,150,0.18],pe:[2.6,110,0.25],pf:[4.2,120,0.15]};
var E=document.getElementById('edges');var out='';
for(var id in cfg){var c=cfg[id];var cs=document.getElementById(id).getElementsByTagName('circle');var n=[];
for(var i=0;i<cs.length;i++)n.push([+cs[i].getAttribute('cx'),+cs[i].getAttribute('cy'),+cs[i].getAttribute('r')]);
var bl='',rd='';
for(var i=0;i<n.length;i++){var w=n[i][2]/6;var k=Math.round(c[0]*w*w*(0.5+rnd()));
for(var t=0;t<k;t++){var j=Math.floor(rnd()*n.length);if(j==i)continue;var dx=n[j][0]-n[i][0],dy=n[j][1]-n[i][1];var d=Math.sqrt(dx*dx+dy*dy);if(d>c[1]*(0.6+w*0.5))continue;
var b=(rnd()-0.5)*0.6;var mx=(n[i][0]+n[j][0])/2-dy*b,my=(n[i][1]+n[j][1])/2+dx*b;
var p='M'+n[i][0]+' '+n[i][1]+'Q'+mx.toFixed(1)+' '+my.toFixed(1)+' '+n[j][0]+' '+n[j][1];
if(rnd()<c[2])rd+=p;else bl+=p;}}
out+='<path d="'+bl+'" fill="none" stroke="#2b35e0" stroke-width="0.8"/>';
out+='<path d="'+rd+'" fill="none" stroke="#ee3333" stroke-width="0.7" stroke-dasharray="1.5,1.5"/>';}
E.innerHTML=out;
})();
</script>
</body></html>
